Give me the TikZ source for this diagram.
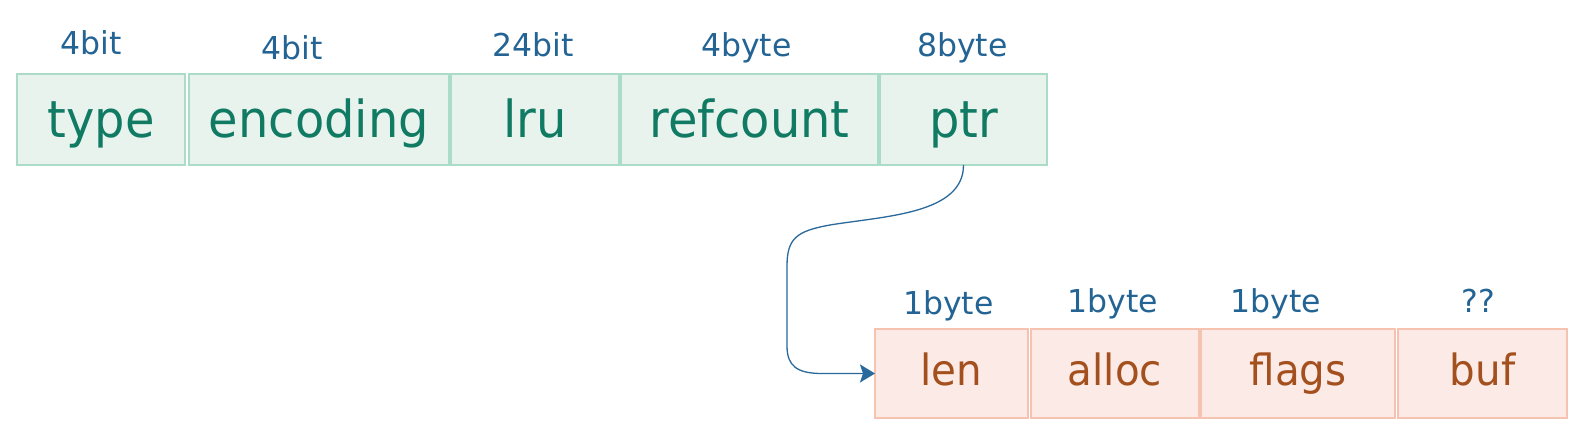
\documentclass[tikz,border=0pt]{standalone}
\usepackage{fontspec}
\setmainfont{DejaVu Sans}
\newfontfamily\namefont[FakeStretch=0.94]{DejaVu Sans}
\usepackage{xcolor}
\usetikzlibrary{positioning, arrows.meta}
\definecolor{objfill}{HTML}{E8F3EE}
\definecolor{objline}{HTML}{AADCC8}
\definecolor{objtext}{HTML}{107A63}
\definecolor{sdsfill}{HTML}{FBEAE5}
\definecolor{sdsline}{HTML}{F5C3AF}
\definecolor{sdstext}{HTML}{A4501E}
\definecolor{sizeblue}{HTML}{236494}
\definecolor{linkblue}{HTML}{2A699B}

\tikzset{
  field/.style={draw, line width=1.6pt, outer sep=0pt, inner sep=0pt},
  objfield/.style={field, fill=objfill, draw=objline, text=objtext, minimum height=91pt,
    font=\namefont\fontsize{51}{58}\selectfont, text height=39pt, text depth=2pt},
  sdsfield/.style={field, fill=sdsfill, draw=sdsline, text=sdstext, minimum height=89pt,
    font=\namefont\fontsize{43}{50}\selectfont, text height=31pt, text depth=6pt},
  sizelbl/.style={text=sizeblue, font=\fontsize{31.5}{36}\selectfont, inner sep=0pt, anchor=base},
  ptrlink/.style={draw=linkblue, line width=1.3pt, -{Stealth[length=15pt, width=18pt, inset=3pt]}}
}

\begin{document}
\begin{tikzpicture}[x=1pt, y=1pt]
    \useasboundingbox[fill=white] (0,0) rectangle (1586,446);
    % object header
    \node[objfield, minimum width=168pt] (type) at (101,326.5) {type};
    \node[objfield, minimum width=260pt, right=4pt of type] (encoding) {encoding};
    \node[objfield, minimum width=168pt, right=2pt of encoding] (lru) {lru};
    \node[objfield, minimum width=257pt, right=2pt of lru] (refcount) {refcount};
    \node[objfield, minimum width=167pt, right=2pt of refcount] (ptr) {ptr};
    % string body
    \node[sdsfield, minimum width=153pt] (len) at (951.5,72.5) {len};
    \node[sdsfield, minimum width=168pt, right=3pt of len] (alloc) {alloc};
    \node[sdsfield, minimum width=194pt, right=2pt of alloc] (flags) {flags};
    \node[sdsfield, minimum width=169pt, right=3pt of flags] (buf) {buf};
    % sizes
    \node[above=19pt of type, sizelbl, xshift=-10pt] (typesize) {4bit};
    \node[above=14pt of encoding, sizelbl, xshift=-27pt] (encodingsize) {4bit};
    \node[above=17pt of lru, sizelbl, xshift=-2pt] (lrusize) {24bit};
    \node[above=17pt of refcount, sizelbl, xshift=-3pt] (refcountsize) {4byte};
    \node[above=17pt of ptr, sizelbl, xshift=-1pt] (ptrsize) {8byte};
    \node[above=14pt of len, sizelbl, xshift=-3pt] (lensize) {1byte};
    \node[above=16pt of alloc, sizelbl, xshift=-2pt] (allocsize) {1byte};
    \node[above=16pt of flags, sizelbl, xshift=-22pt] (flagssize) {1byte};
    \node[above=16pt of buf, sizelbl, xshift=-4pt] (bufsize) {??};
    % ptr -> len
    \coordinate (bendtop) at (830,221);
    \coordinate (bendleft) at (787,180);
    \coordinate (bendlow) at (787,100);
    \coordinate (bendend) at (822,72.5);
    \draw[ptrlink] (ptr.south) .. controls (963.5,232) and (885,230) .. (bendtop)
        .. controls (797,215) and (787,208) .. (bendleft) -- (bendlow)
        .. controls (787,80) and (797,72.5) .. (bendend) -- (len.west);
\end{tikzpicture}
\end{document}
